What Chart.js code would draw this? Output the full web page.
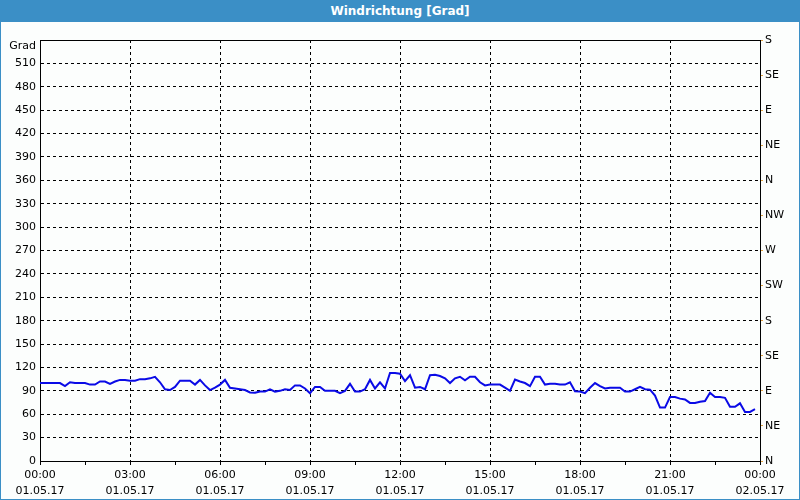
<!DOCTYPE html>
<html>
<head>
<meta charset="utf-8">
<script src="https://cdn.jsdelivr.net/npm/chart.js@4.4.0/dist/chart.umd.min.js"></script>
<style>
  html, body { margin: 0; padding: 0; }
  body { width: 800px; height: 500px; background: #3b8fc6; position: relative; overflow: hidden; }
  #titel { position: absolute; left: 0; top: 4px; width: 800px; height: 18px; line-height: 16px;
    text-align: center; color: #fff; font: bold 12px "DejaVu Sans", sans-serif; }
  #box { position: absolute; left: 1px; top: 22px; width: 798px; height: 477px; background: #fcfefd; }
</style>
</head>
<body>
<div id="titel">Windrichtung [Grad]</div>
<div id="box"><canvas id="windChart"></canvas></div>
<script>
// Messwerte alle 10 Minuten, 01.05.17 00:00 bis 23:50
var minuten = [];
for (var m = 0; m < 1440; m += 10) minuten.push(m);

var windrichtung = [
	100, 100, 100, 100, 100, 96, 101, 100, 100, 100, 98, 98,
	102, 102, 99, 102, 104, 104, 103, 103, 105, 105, 106, 108,
	101, 92, 91, 95, 103, 103, 103, 98, 104, 97, 91, 94,
	98, 104, 94, 93, 92, 91, 88, 87.5, 89, 89, 92, 89,
	90, 92, 91, 97, 97, 93, 87, 95, 95, 90, 90, 90,
	87, 90, 99, 89, 89, 92, 104, 93, 101, 93, 113, 113,
	112, 102.5, 110, 94, 95, 92, 110, 110.5, 109, 106, 100, 106,
	108, 103.5, 108, 108, 101, 97, 98, 98, 98, 94, 90, 104.5,
	102, 100, 96, 108, 108, 98, 99, 99, 98, 98, 101, 89.5,
	89, 87, 94, 100, 96, 93, 94, 94, 94, 89, 89, 92,
	95, 92, 91.5, 84, 68.5, 68.5, 82, 82, 80, 79, 74.5, 74.5,
	76, 77, 87.5, 82, 82, 81, 69.5, 69.5, 74, 63, 63, 66.5
];

var zeitLabels = ['00:00', '03:00', '06:00', '09:00', '12:00', '15:00', '18:00', '21:00', '00:00'];
var datumLabels = ['01.05.17', '01.05.17', '01.05.17', '01.05.17', '01.05.17', '01.05.17', '01.05.17', '01.05.17', '02.05.17'];
var himmelsrichtung = ['N', 'NE', 'E', 'SE', 'S', 'SW', 'W', 'NW', 'N', 'NE', 'E', 'SE', 'S'];

var punkte = minuten.map(function(m, i) { return { x: m, y: windrichtung[i] }; });

var schrift = { family: 'DejaVu Sans', size: 11 };
Chart.defaults.color = '#000';

// "Grad" etwas unterhalb der oberen Kante, wie im Original
var gradLabel = {
	id: 'gradLabel',
	afterDraw: function(chart) {
		var ctx = chart.ctx;
		var s = chart.scales.y;
		ctx.save();
		ctx.font = '11px "DejaVu Sans"';
		ctx.fillStyle = '#000';
		ctx.textAlign = 'right';
		ctx.textBaseline = 'middle';
		ctx.fillText('Grad', s.right - 4, s.top + 6);
		ctx.restore();
	}
};

var chartArea = document.getElementById('windChart').getContext('2d');
var myChart = new Chart(chartArea, {
	type: 'line',
	data: {
		datasets: [{
			data: punkte,
			borderColor: '#0a0ae6',
			borderWidth: 2,
			pointRadius: 0,
			tension: 0,
			fill: false
		}]
	},
	plugins: [gradLabel],
	options: {
		responsive: true,
		maintainAspectRatio: false,
		animation: false,
		layout: { padding: 0 },
		plugins: { legend: { display: false }, tooltip: { enabled: false } },
		scales: {
			x: {
				type: 'linear',
				position: 'bottom',
				min: 0,
				max: 1440,
				afterFit: function(s) { s.height = 38; },
				afterBuildTicks: function(s) {
					var t = [];
					for (var v = 0; v <= 1440; v += 90) t.push({ value: v });
					s.ticks = t;
				},
				ticks: {
					autoSkip: false,
					maxRotation: 0,
					padding: 2,
					font: { family: 'DejaVu Sans', size: 11, lineHeight: 1.45 },
					callback: function(value) {
						if (value % 180 !== 0) return '';
						var i = value / 180;
						return [zeitLabels[i], datumLabels[i]];
					}
				},
				grid: {
					color: function(ctx) {
						return ctx.tick && ctx.tick.value % 180 === 0 ? '#000' : 'rgba(0,0,0,0)';
					},
					tickColor: '#000',
					tickLength: 4,
					lineWidth: 1
				},
				border: { color: '#000', width: 1, dash: [3, 3] }
			},
			xTop: {
				type: 'linear',
				position: 'top',
				min: 0,
				max: 1440,
				afterFit: function(s) { s.height = 18; },
				ticks: { display: false },
				grid: { drawOnChartArea: false, drawTicks: false },
				border: { color: '#000', width: 1 }
			},
			y: {
				position: 'left',
				min: 0,
				max: 540,
				afterFit: function(s) { s.width = 39; },
				afterBuildTicks: function(s) {
					var t = [];
					for (var v = 0; v <= 540; v += 30) t.push({ value: v });
					s.ticks = t;
				},
				ticks: {
					autoSkip: false,
					padding: 4,
					font: schrift,
					callback: function(value) { return value === 540 ? '' : value; }
				},
				grid: {
					color: '#000',
					lineWidth: 1,
					drawTicks: false
				},
				border: { color: '#000', width: 1, dash: [3, 3] }
			},
			yRechts: {
				position: 'right',
				min: 0,
				max: 540,
				afterFit: function(s) { s.width = 39; },
				afterBuildTicks: function(s) {
					var t = [];
					for (var v = 0; v <= 540; v += 45) t.push({ value: v });
					s.ticks = t;
				},
				ticks: {
					autoSkip: false,
					padding: 2,
					font: schrift,
					callback: function(value) { return himmelsrichtung[value / 45]; }
				},
				grid: { drawOnChartArea: false, tickColor: '#e0a040', tickLength: 3 },
				border: { color: '#000', width: 1 }
			}
		}
	}
});
</script>
</body>
</html>
